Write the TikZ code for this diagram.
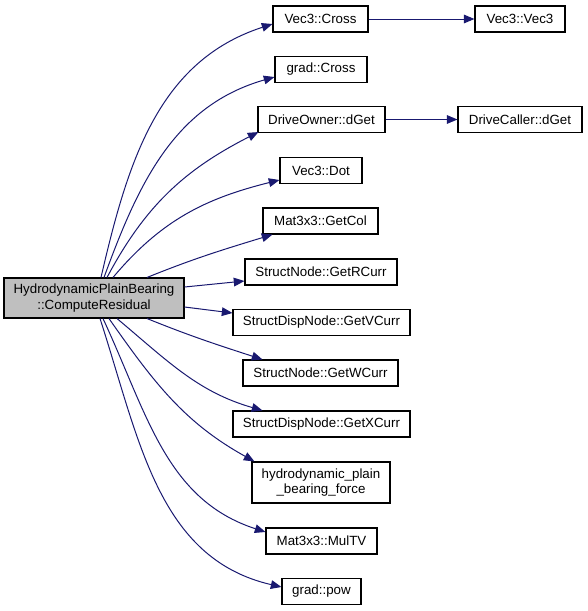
\documentclass[tikz,border=0pt]{standalone}
\usepackage{fontspec}
\setmainfont{Liberation Sans}
\usetikzlibrary{arrows.meta,calc}
\definecolor{edgeblue}{HTML}{191970}
\definecolor{callergray}{HTML}{BFBFBF}

\begin{document}
\begin{tikzpicture}[x=0.75pt,y=0.75pt]
\tikzstyle{func} = [rectangle, draw=black, line width=0.8pt, text centered,
minimum height=19.5pt, inner sep=0pt, font=\fontsize{10}{11.5}\selectfont]
\tikzstyle{caller} = [func, fill=callergray, align=center, minimum height=30pt]
\tikzstyle{line} = [draw=edgeblue, line width=0.75pt, -{Triangle[length=8pt,width=6.5pt]}];
\useasboundingbox (0,0) rectangle (587,-611);
% caller
\node [caller, minimum width=135pt] (compute) at (94,-298) {HydrodynamicPlainBearing\\::ComputeResidual};
% callees
\node [func, minimum width=71.25pt] (vcross) at (320.5,-19) {Vec3::Cross};
\node [func, minimum width=67.5pt] (vvec) at (520,-19) {Vec3::Vec3};
\node [func, minimum width=69pt] (gcross) at (321,-69.5) {grad::Cross};
\node [func, minimum width=95.25pt] (ownerget) at (321.5,-119.5) {DriveOwner::dGet};
\node [func, minimum width=93pt] (callerget) at (520,-119.5) {DriveCaller::dGet};
\node [func, minimum width=61.5pt] (vdot) at (321,-170.5) {Vec3::Dot};
\node [func, minimum width=86.25pt] (getcol) at (320.5,-221) {Mat3x3::GetCol};
\node [func, minimum width=114pt] (getr) at (321,-272) {StructNode::GetRCurr};
\node [func, minimum width=132.75pt] (getv) at (321.5,-322.5) {StructDispNode::GetVCurr};
\node [func, minimum width=116.25pt] (getw) at (320.5,-373) {StructNode::GetWCurr};
\node [func, minimum width=132.75pt] (getx) at (321.5,-424) {StructDispNode::GetXCurr};
\node [func, align=center, minimum width=103.5pt, minimum height=30.75pt] (force) at (321,-482.5) {hydrodynamic\_plain\\\_bearing\_force};
\node [func, minimum width=83.25pt] (multv) at (321.5,-541) {Mat3x3::MulTV};
\node [func, minimum width=59.25pt] (gpow) at (321.5,-591.5) {grad::pow};

% calls upward
\path [line] ($(compute.north)+(7,0)$) to[out=77,in=198] ($(vcross.west)+(0,-5)$);
\path [line] ($(compute.north)+(10,0)$) to[out=70,in=196] ($(gcross.west)+(0,-7.5)$);
\path [line] ($(compute.north)+(13,0)$) to[out=62,in=207] ($(ownerget.south west)+(1,1)$);
\path [line] ($(compute.north)+(19,0)$) to[out=50,in=194] ($(vdot.west)+(0,-9.5)$);
\path [line] ($(compute.north)+(53,0)$) to[out=22,in=197] ($(getcol.south west)+(10,0)$);
% calls to the right
\path [line] ($(compute.east)+(0,11)$) -- ($(getr.west)+(0,-9)$);
\path [line] ($(compute.east)+(0,-9)$) -- ($(getv.west)+(0,9.5)$);
% calls downward
\path [line] ($(compute.south)+(53,0)$) to[out=-22,in=162] ($(getw.north west)+(20,0)$);
\path [line] ($(compute.south)+(23,0)$) to[out=-40,in=164] ($(getx.north west)+(30,0)$);
\path [line] ($(compute.south)+(15,0)$) to[out=-55,in=151] ($(force.north west)+(3,0)$);
\path [line] ($(compute.south)+(9,0)$) to[out=-65,in=162] ($(multv.west)+(0,9)$);
\path [line] ($(compute.south)+(6,0)$) to[out=-72,in=167] ($(gpow.west)+(0,4.5)$);
% second level
\path [line] (vcross) -- (vvec);
\path [line] (ownerget) -- (callerget);
\end{tikzpicture}
\end{document}
